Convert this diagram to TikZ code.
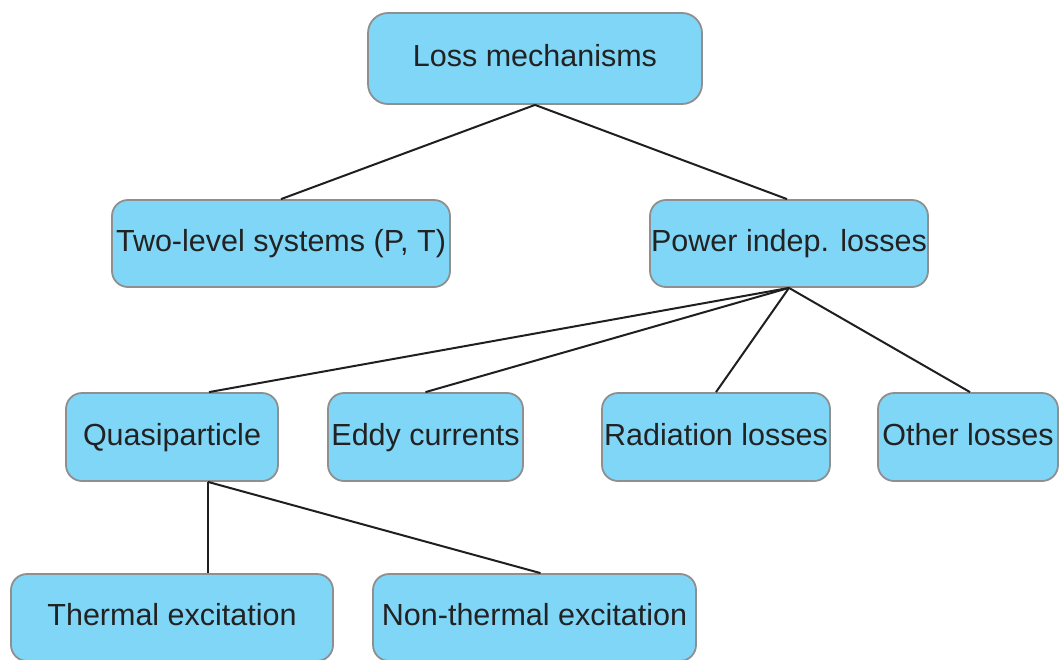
\documentclass[tikz,border=0pt]{standalone}
\usepackage{fontspec}
\setmainfont{Liberation Sans}
\usetikzlibrary{positioning}
\definecolor{boxfill}{HTML}{80D6F7}
\definecolor{boxline}{HTML}{8F8F8F}
\definecolor{boxtext}{HTML}{222222}
\begin{document}
\begin{tikzpicture}[x=1pt, y=-1pt]

  \tikzset{LossBox/.style =
	{draw = boxline,
	fill = boxfill,
	line width = 1.8pt,
	rounded corners = 16pt,
	inner sep = 0pt,
	text height = 22pt,
	text depth = 6pt,
	text = boxtext,
	font = \fontsize{30.5}{36}\selectfont},
	LinkStyle/.style =
	{line width = 2pt,
	draw = black!88}}
  \useasboundingbox (0,0) rectangle (1059,659);

  \node[LossBox, rounded corners=20pt, minimum width=334pt, minimum height=91pt] (loss) at (535,58.5) {Loss mechanisms};
  \node[LossBox, minimum width=338pt, minimum height=87pt] (tls) at (281,243.5) {Two-level systems (P, T)};
  \node[LossBox, minimum width=278pt, minimum height=87pt] (pil) at (789,243.5) {Power indep. losses};
  \node[LossBox, minimum width=212pt, minimum height=88pt] (qp) at (172,437) {Quasiparticle};
  \node[LossBox, minimum width=195pt, minimum height=88pt] (eddy) at (425.5,437) {Eddy currents};
  \node[LossBox, minimum width=228pt, minimum height=88pt] (rad) at (716,437) {Radiation losses};
  \node[LossBox, minimum width=180pt, minimum height=88pt] (other) at (968,437) {Other losses};
  \node[LossBox, minimum width=322pt, minimum height=87pt] (therm) at (172,617.5) {Thermal excitation};
  \node[LossBox, minimum width=323pt, minimum height=87pt] (nontherm) at (534.5,617.5) {Non-thermal excitation};

  % links
  \draw[LinkStyle] (loss.south) -- (tls.north);
  \draw[LinkStyle] (loss.south) -- ([xshift=-2pt]pil.north);
  \draw[LinkStyle] (pil.south) -- ([xshift=37pt]qp.north);
  \draw[LinkStyle] (pil.south) -- (eddy.north);
  \draw[LinkStyle] (pil.south) -- (rad.north);
  \draw[LinkStyle] (pil.south) -- ([xshift=2pt]other.north);
  \draw[LinkStyle] ([xshift=36pt]qp.south) -- ([xshift=36pt]therm.north);
  \draw[LinkStyle] ([xshift=36pt]qp.south) -- ([xshift=6pt]nontherm.north);

\end{tikzpicture}
\end{document}
